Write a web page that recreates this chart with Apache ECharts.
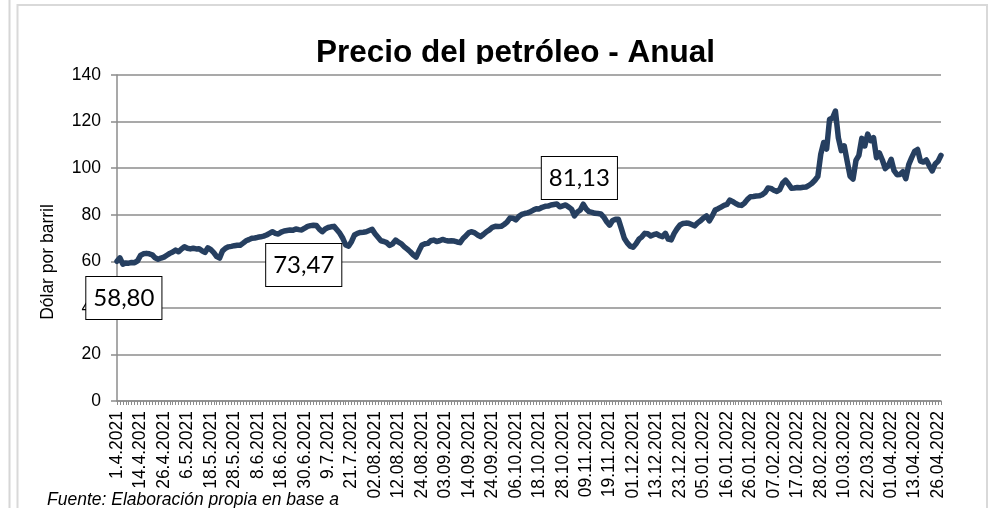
<!DOCTYPE html>
<html><head><meta charset="utf-8">
<script src="https://cdn.jsdelivr.net/npm/echarts@6/dist/echarts.min.js"></script>
<style>html,body{margin:0;padding:0;background:#fff}#c{width:992px;height:508px}</style>
</head><body><div id="c"></div>
<script>
const categories = [
'1.4.2021','5.4.2021','6.4.2021','7.4.2021','8.4.2021','9.4.2021','12.4.2021','13.4.2021',
'14.4.2021','15.4.2021','16.4.2021','19.4.2021','20.4.2021','21.4.2021','22.4.2021','23.4.2021',
'26.4.2021','27.4.2021','28.4.2021','29.4.2021','30.4.2021','3.5.2021','4.5.2021','5.5.2021',
'6.5.2021','7.5.2021','10.5.2021','11.5.2021','12.5.2021','13.5.2021','14.5.2021','17.5.2021',
'18.5.2021','19.5.2021','20.5.2021','21.5.2021','24.5.2021','25.5.2021','26.5.2021','27.5.2021',
'28.5.2021','31.5.2021','1.6.2021','2.6.2021','3.6.2021','4.6.2021','5.6.2021','7.6.2021',
'8.6.2021','9.6.2021','10.6.2021','11.6.2021','14.6.2021','15.6.2021','16.6.2021','17.6.2021',
'18.6.2021','21.6.2021','22.6.2021','23.6.2021','24.6.2021','25.6.2021','28.6.2021','29.6.2021',
'30.6.2021','1.7.2021','2.7.2021','3.7.2021','5.7.2021','6.7.2021','7.7.2021','8.7.2021',
'9.7.2021','12.7.2021','13.7.2021','14.7.2021','15.7.2021','16.7.2021','19.7.2021','20.7.2021',
'21.7.2021','22.7.2021','23.7.2021','26.7.2021','27.7.2021','28.7.2021','29.7.2021','30.7.2021',
'02.08.2021','03.08.2021','04.08.2021','05.08.2021','06.08.2021','09.08.2021','10.08.2021','11.08.2021',
'12.08.2021','13.08.2021','16.08.2021','17.08.2021','18.08.2021','19.08.2021','20.08.2021','23.08.2021',
'24.08.2021','25.08.2021','26.08.2021','27.08.2021','30.08.2021','31.08.2021','01.09.2021','02.09.2021',
'03.09.2021','04.09.2021','06.09.2021','07.09.2021','08.09.2021','09.09.2021','10.09.2021','13.09.2021',
'14.09.2021','15.09.2021','16.09.2021','17.09.2021','20.09.2021','21.09.2021','22.09.2021','23.09.2021',
'24.09.2021','27.09.2021','28.09.2021','29.09.2021','30.09.2021','01.10.2021','04.10.2021','05.10.2021',
'06.10.2021','07.10.2021','08.10.2021','11.10.2021','12.10.2021','13.10.2021','14.10.2021','15.10.2021',
'18.10.2021','19.10.2021','20.10.2021','21.10.2021','22.10.2021','25.10.2021','26.10.2021','27.10.2021',
'28.10.2021','29.10.2021','01.11.2021','02.11.2021','03.11.2021','04.11.2021','05.11.2021','08.11.2021',
'09.11.2021','10.11.2021','11.11.2021','12.11.2021','15.11.2021','16.11.2021','17.11.2021','18.11.2021',
'19.11.2021','22.11.2021','23.11.2021','24.11.2021','25.11.2021','26.11.2021','29.11.2021','30.11.2021',
'01.12.2021','02.12.2021','03.12.2021','06.12.2021','07.12.2021','08.12.2021','09.12.2021','10.12.2021',
'13.12.2021','14.12.2021','15.12.2021','16.12.2021','17.12.2021','20.12.2021','21.12.2021','22.12.2021',
'23.12.2021','24.12.2021','27.12.2021','28.12.2021','29.12.2021','30.12.2021','03.01.2022','04.01.2022',
'05.01.2022','06.01.2022','07.01.2022','10.01.2022','11.01.2022','12.01.2022','13.01.2022','14.01.2022',
'16.01.2022','17.01.2022','18.01.2022','19.01.2022','20.01.2022','21.01.2022','24.01.2022','25.01.2022',
'26.01.2022','27.01.2022','28.01.2022','31.01.2022','01.02.2022','02.02.2022','03.02.2022','04.02.2022',
'07.02.2022','08.02.2022','09.02.2022','10.02.2022','11.02.2022','14.02.2022','15.02.2022','16.02.2022',
'17.02.2022','18.02.2022','20.02.2022','21.02.2022','22.02.2022','23.02.2022','24.02.2022','25.02.2022',
'28.02.2022','01.03.2022','02.03.2022','03.03.2022','04.03.2022','07.03.2022','08.03.2022','09.03.2022',
'10.03.2022','11.03.2022','14.03.2022','15.03.2022','16.03.2022','17.03.2022','18.03.2022','21.03.2022',
'22.03.2022','23.03.2022','24.03.2022','25.03.2022','28.03.2022','29.03.2022','30.03.2022','31.03.2022',
'01.04.2022','04.04.2022','05.04.2022','06.04.2022','07.04.2022','08.04.2022','11.04.2022','12.04.2022',
'13.04.2022','14.04.2022','18.04.2022','19.04.2022','20.04.2022','21.04.2022','22.04.2022','25.04.2022',
'26.04.2022','27.04.2022'
];

const prices = [
60.0,61.5,58.8,59.3,59.2,59.5,59.4,60.2,
62.5,63.2,63.4,63.2,62.8,61.5,60.9,61.4,
61.8,62.6,63.4,64.0,64.8,64.1,65.3,66.2,
65.6,65.3,65.6,65.3,65.4,64.5,63.8,65.8,
65.0,63.7,62.0,61.4,64.5,65.6,66.2,66.4,
66.7,66.9,66.9,67.8,68.8,69.3,69.9,70.0,
70.3,70.5,70.8,71.3,72.0,72.7,72.0,71.7,
72.5,73.0,73.2,73.4,73.3,73.9,73.6,73.47,
74.2,75.0,75.3,75.5,75.4,73.8,72.7,73.9,
74.5,74.8,75.0,73.5,72.0,69.9,67.0,66.5,
68.5,71.3,72.0,72.4,72.5,72.7,73.2,73.7,
71.8,70.3,68.8,68.5,68.0,66.8,67.5,69.1,
68.2,67.5,66.2,65.2,64.1,62.8,61.8,64.5,
67.0,67.5,67.7,68.8,69.1,68.5,68.8,69.4,
69.0,68.7,68.8,68.7,68.3,68.0,69.8,71.0,
72.3,72.7,72.2,71.3,70.6,71.6,72.7,73.5,
74.6,75.0,74.9,75.0,75.8,76.8,78.6,78.5,
77.8,79.2,80.1,80.5,80.8,81.3,82.0,82.6,
82.5,83.2,83.6,83.7,84.2,84.4,84.6,83.4,
83.8,84.2,83.3,82.4,79.5,81.13,82.0,84.5,
82.5,81.3,81.0,80.6,80.5,80.3,79.0,77.0,
75.5,77.5,78.0,78.0,74.0,69.9,67.9,66.5,
66.0,67.5,69.5,70.5,72.0,71.8,70.9,71.4,
71.8,71.0,70.6,72.0,69.5,69.2,72.0,74.0,
75.6,76.2,76.4,76.3,75.8,75.2,76.5,77.4,
78.6,79.5,77.4,79.5,82.0,82.6,83.3,84.0,
84.4,86.3,85.6,84.8,84.2,84.0,85.0,86.6,
87.7,87.8,88.0,88.1,88.6,89.5,91.5,91.3,
90.5,90.0,90.8,93.5,94.8,93.2,91.4,91.5,
91.7,91.6,91.8,91.9,92.6,93.5,94.8,96.5,
106.0,111.0,108.2,121.0,121.5,124.5,113.0,107.5,
109.6,103.0,96.5,95.3,103.3,105.5,112.8,109.5,
114.6,111.8,113.1,104.5,106.5,103.5,99.8,101.0,
103.8,98.9,97.2,97.3,98.5,95.5,101.5,104.5,
107.2,108.0,103.0,102.6,103.5,101.0,98.8,101.8,
103.0,105.5
];

const yTicks = [0, 20, 40, 60, 80, 100, 120, 140];
const annotIndex = [2, 63, 157];
const annotOffset = [[1, 34], [2, 35], [2, -34]];

const chart = echarts.init(document.getElementById('c'), null, {renderer: 'canvas'});
const fmt = v => v.toFixed(2).replace('.', ',');

chart.setOption({
  animation: false,
  backgroundColor: '#fff',
  title: {
    text: 'Precio del petróleo - Anual',
    left: 311, top: 32,
    textStyle: {fontFamily: 'Liberation Sans', fontWeight: 'bold', fontSize: 31.5, color: '#000'}
  },
  grid: {left: 117, right: 51, top: 75, bottom: 107, containLabel: false},
  xAxis: {
    type: 'category',
    data: categories,
    boundaryGap: false,
    axisLine: {lineStyle: {color: '#8c8c8c', width: 1.5}},
    axisTick: {show: true, interval: 0, length: 4, lineStyle: {color: '#8c8c8c'}},
    axisLabel: {interval: 7, rotate: 90, margin: 10, fontSize: 17.5, color: '#000',
      fontFamily: 'Liberation Sans'},
    splitLine: {show: false}
  },
  yAxis: {
    type: 'value',
    min: yTicks[0], max: yTicks[yTicks.length - 1], interval: 20,
    axisLine: {show: true, lineStyle: {color: '#8c8c8c', width: 1.5}},
    axisTick: {show: true, length: 6, lineStyle: {color: '#8c8c8c', width: 1.5}},
    axisLabel: {margin: 16, fontSize: 17.5, color: '#000', fontFamily: 'Liberation Sans'},
    splitLine: {lineStyle: {color: '#8c8c8c', width: 1.5}}
  },
  series: [{
    type: 'line',
    data: prices,
    showSymbol: false,
    symbol: 'none',
    lineStyle: {color: '#263f60', width: 5.5, cap: 'round', join: 'round'},
    clip: false,
    markPoint: {
      z: 10,
      symbol: 'circle', symbolSize: 1,
      itemStyle: {color: 'rgba(0,0,0,0)'},
      label: {
        show: true, position: 'inside',
        fontFamily: 'Lato', fontSize: 24, color: '#000',
        backgroundColor: '#fff', borderColor: '#000', borderWidth: 1,
        padding: [10, 7, 8, 7],
        formatter: p => fmt(p.value)
      },
      data: annotIndex.map((idx, k) => ({
        coord: [idx, prices[idx]], value: prices[idx],
        label: {offset: annotOffset[k]}
      }))
    }
  }],
  graphic: [
    {type: 'line', shape: {x1: 9.5, y1: 0, x2: 9.5, y2: 508}, style: {stroke: '#d6d6d6', lineWidth: 2}, z: 1},
    {type: 'rect', shape: {x: 17.5, y: 5, width: 969.5, height: 530}, style: {fill: 'none', stroke: '#d9d9d9', lineWidth: 2}, z: 1},
    {type: 'rect', shape: {x: 300, y: 64, width: 440, height: 9.5}, style: {fill: '#fff'}, z: 100},
    {type: 'text', x: 48, y: 262, rotation: Math.PI / 2,
      style: {text: 'Dólar por barril', fontSize: 17.5, fontFamily: 'Liberation Sans', fill: '#000',
        textAlign: 'center', textVerticalAlign: 'middle'}, z: 100},
    {type: 'text', x: 47, y: 491,
      style: {text: 'Fuente: Elaboración propia en base a', fontSize: 17.5, fontStyle: 'italic',
        fontFamily: 'Liberation Sans', fill: '#000', textAlign: 'left', textVerticalAlign: 'top'}, z: 100}
  ]
});
</script></body></html>
